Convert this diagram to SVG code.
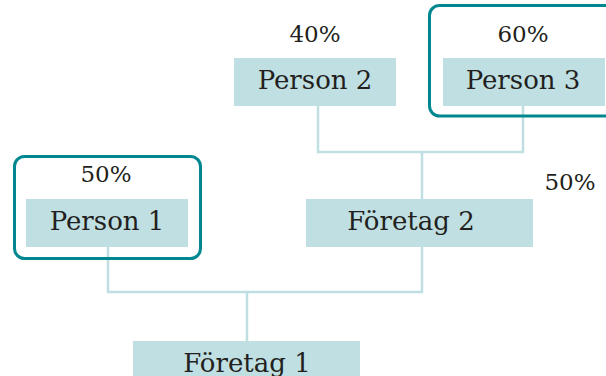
<svg xmlns="http://www.w3.org/2000/svg" width="606" height="376" viewBox="0 0 606 376">
<style>
.box{fill:#c0dfe2}
.grp{fill:none;stroke:#00878f;stroke-width:3}
.lbl{font-family:'DejaVu Serif',serif;font-size:26px;fill:#231f20;text-anchor:middle}
.pct{font-family:'DejaVu Serif',serif;font-size:23px;fill:#231f20;text-anchor:middle}
.con{fill:none;stroke:#c0dfe2;stroke-width:2.5}
</style>
<rect width="606" height="376" fill="#ffffff"/>
<g id="connectors">
<path class="con" d="M318 106V152H523V106"/>
<path class="con" d="M422 152V199"/>
<path class="con" d="M108 247V292H422V247"/>
<path class="con" d="M247 292V341"/>
</g>
<g id="person1">
<rect class="grp" x="14.5" y="156.5" width="186" height="102" rx="10"/>
<text class="pct" x="106" y="182">50%</text>
<rect class="box" x="26" y="199" width="162" height="48"/>
<text class="lbl" x="107" y="230">Person 1</text>
</g>
<g id="person2">
<text class="pct" x="315" y="42">40%</text>
<rect class="box" x="234" y="58" width="162" height="48"/>
<text class="lbl" x="315" y="89">Person 2</text>
</g>
<g id="person3">
<rect class="grp" x="429.5" y="5.5" width="200" height="110.5" rx="10"/>
<text class="pct" x="523" y="42">60%</text>
<rect class="box" x="443" y="58" width="162" height="48"/>
<text class="lbl" x="523" y="89">Person 3</text>
</g>
<g id="foretag2">
<rect class="box" x="306" y="199" width="227" height="48"/>
<text class="lbl" x="411" y="230">Företag 2</text>
<text class="pct" x="570" y="190">50%</text>
</g>
<g id="foretag1">
<rect class="box" x="133" y="341" width="227" height="48"/>
<text class="lbl" x="247" y="372">Företag 1</text>
</g>
</svg>
